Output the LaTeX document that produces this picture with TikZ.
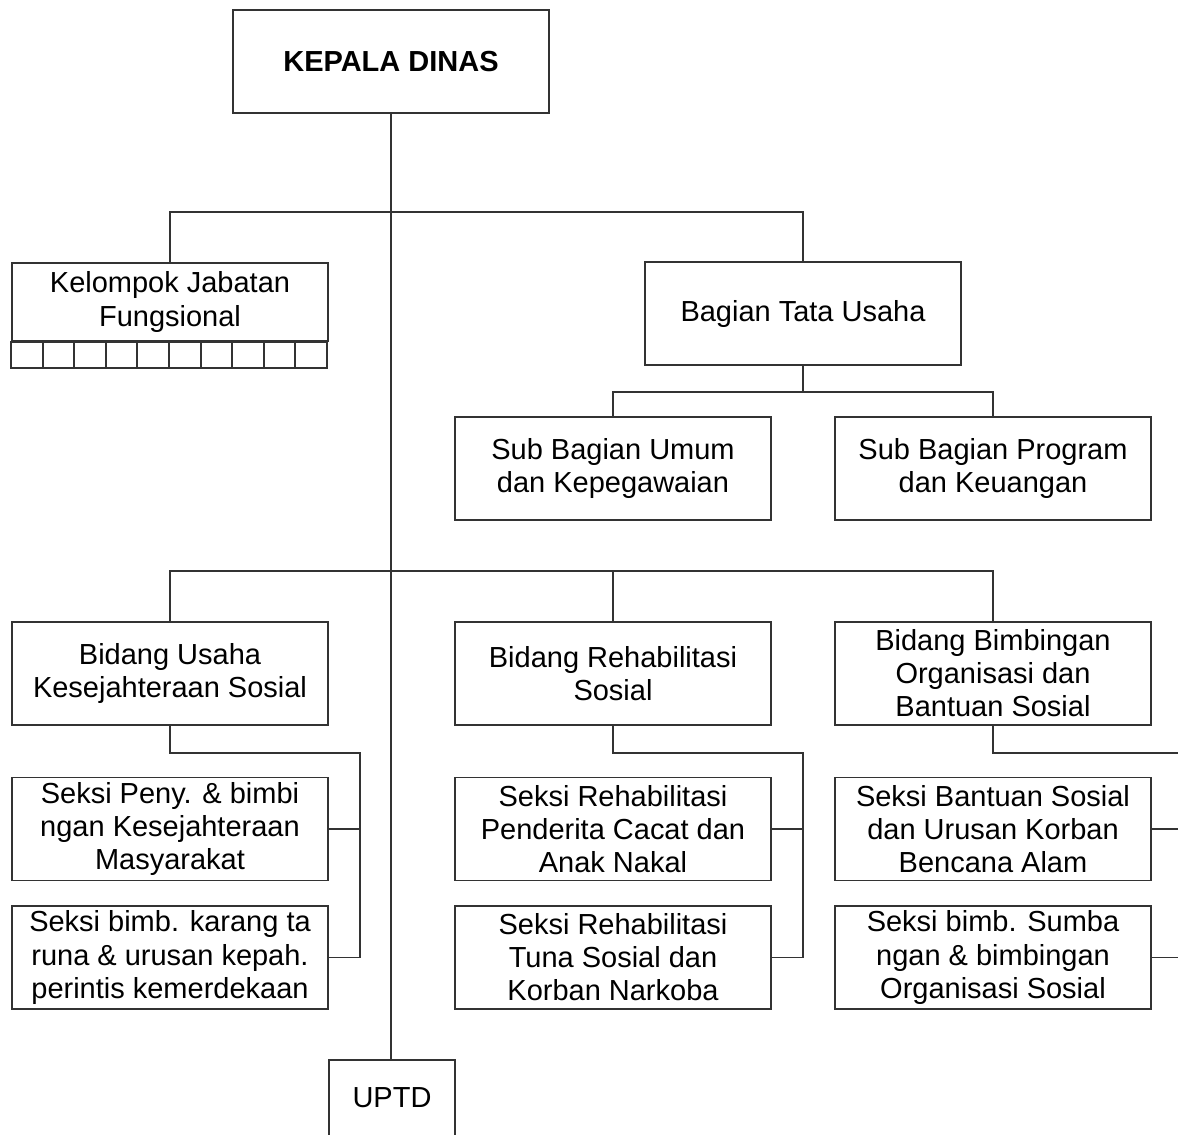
\documentclass[tikz,border=0pt]{standalone}
\usepackage{fontspec}
\setmainfont{Liberation Sans}
\definecolor{linegray}{rgb}{0.2,0.2,0.2}

\begin{document}
\begin{tikzpicture}[x=0.02cm, y=-0.02cm, line width=1.1pt,
    unit/.style={draw=linegray, minimum width=6.32cm, minimum height=2.06cm,
        align=center, inner sep=0pt, font=\fontsize{16.5}{18.8}\selectfont},
    link/.style={draw=linegray}]
    % Frame
    \clip (0,0) rectangle (1178,1134);
    \fill[white] (0,0) rectangle (1178,1134);

    % Head
    \node[unit, font=\fontsize{16.5}{18.8}\selectfont\bfseries] (kepala) at (391,61.5) {KEPALA DINAS};

    % Functional group
    \node[unit, minimum height=1.56cm] (kjf) at (170,302) {Kelompok Jabatan\\Fungsional};
    \foreach \i in {0,...,9} {
        \draw[linegray] ([xshift=\i*0.632cm]kjf.south west) rectangle ++(31.6,26);
    }

    % Secretariat
    \node[unit] (tu) at (803,313.5) {Bagian Tata Usaha};
    \node[unit] (sbu) at (613,468.5) {Sub Bagian Umum\\dan Kepegawaian};
    \node[unit] (sbp) at (993,468.5) {Sub Bagian Program\\dan Keuangan};

    % Divisions
    \node[unit] (bus) at (170,673.5) {Bidang Usaha\\Kesejahteraan Sosial};
    \node[unit] (brs) at (613,673.5) {Bidang Rehabilitasi\\Sosial};
    \node[unit] (bbo) at (993,673.5) {Bidang Bimbingan\\Organisasi dan\\Bantuan Sosial};

    % Sections
    \node[unit] (sus1) at (170,829) {Seksi Peny. \& bimbi\\ngan Kesejahteraan\\Masyarakat};
    \node[unit] (sus2) at (170,957.5) {Seksi bimb. karang ta\\runa \& urusan kepah.\\perintis kemerdekaan};
    \node[unit] (srs1) at (613,829) {Seksi Rehabilitasi\\Penderita Cacat dan\\Anak Nakal};
    \node[unit] (srs2) at (613,957.5) {Seksi Rehabilitasi\\Tuna Sosial dan\\Korban Narkoba};
    \node[unit] (sbo1) at (993,829) {Seksi Bantuan Sosial\\dan Urusan Korban\\Bencana Alam};
    \node[unit] (sbo2) at (993,957.5) {Seksi bimb. Sumba\\ngan \& bimbingan\\Organisasi Sosial};

    % Technical unit
    \node[unit, minimum width=2.52cm, minimum height=1.52cm] (uptd) at (392,1098) {UPTD};

    % Lines
    \draw[link] (kepala.south) -- (kepala.south |- uptd.north);
    \draw[link] (kjf.north) -- ++(0,-50) -| (tu.north);
    \draw[link] (tu.south) -- ++(0,26) coordinate (tuj);
    \draw[link] (sbu.north) |- (tuj) -| (sbp.north);
    \draw[link] (bus.north) -- ++(0,-50) -| (bbo.north);
    \draw[link] (brs.north) -- ++(0,-50);
    \foreach \hd/\first/\second in {bus/sus1/sus2, brs/srs1/srs2, bbo/sbo1/sbo2} {
        \draw[link] (\hd.south) -- ++(0,27) -| ([xshift=0.62cm]\second.east) -- (\second.east);
        \draw[link] (\first.east) -- ++(31,0);
    }
\end{tikzpicture}
\end{document}
